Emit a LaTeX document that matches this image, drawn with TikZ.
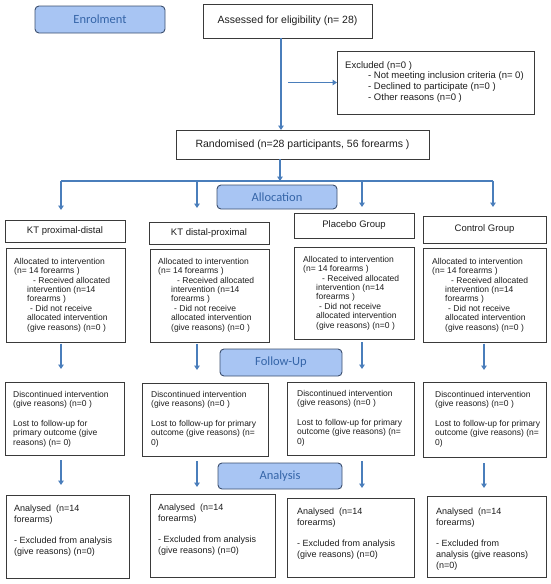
\documentclass[tikz,border=0pt]{standalone}
\usepackage{fontspec}
\setmainfont{Liberation Sans}
\newfontfamily\stagefont{Carlito}
\usetikzlibrary{arrows.meta}
\definecolor{stagefill}{HTML}{A8C5F3}
\definecolor{stageline}{HTML}{3C4F6E}
\definecolor{stagetext}{HTML}{3565A8}
\definecolor{arrowblue}{HTML}{4A7EBB}
\definecolor{boxline}{HTML}{3A3A3A}
\definecolor{txtgray}{HTML}{1E1E1E}
\begin{document}
\begin{tikzpicture}[x=1pt,y=-1pt,
  stagebox/.style={draw=stageline, line width=0.9pt, fill=stagefill, rounded corners=4pt,
    anchor=north west, inner sep=0pt, outer sep=0pt, text=stagetext,
    font=\stagefont\fontsize{12.5}{14}\selectfont},
  plainbox/.style={draw=boxline, line width=0.8pt, fill=white, anchor=north west,
    inner sep=0pt, outer sep=0pt, text=txtgray},
  headbox/.style={plainbox, font=\fontsize{9.5}{11}\selectfont},
  bigbox/.style={plainbox, font=\fontsize{10.5}{12}\selectfont},
  alloctxt/.style={anchor=north west, inner sep=0pt, align=left, text=txtgray,
    font=\fontsize{8.5}{9.4}\selectfont},
  disctxt/.style={anchor=north west, inner sep=0pt, align=left, text=txtgray,
    font=\fontsize{8.5}{9.6}\selectfont},
  anatxt/.style={anchor=north west, inner sep=0pt, align=left, text=txtgray,
    font=\fontsize{9}{10.7}\selectfont},
  excltxt/.style={anchor=north west, inner sep=0pt, align=left, text=txtgray,
    font=\fontsize{9.5}{10.7}\selectfont},
  flow/.style={draw=arrowblue, line width=1.8pt, -{Triangle[length=4.5pt,width=5.5pt]}},
  flowline/.style={draw=arrowblue, line width=1.8pt}
]
\useasboundingbox (0,0) rectangle (550,584);

% stage labels
\node[stagebox, minimum width=130pt, minimum height=27pt] (enrol) at (35,6) {Enrolment};
\node[stagebox, minimum width=120pt, minimum height=24pt] (alloc) at (217,185) {Allocation};
\node[stagebox, minimum width=122pt, minimum height=27pt] (follow) at (220,349) {Follow-Up};
\node[stagebox, minimum width=124pt, minimum height=26pt] (analysis) at (218,463) {Analysis};

% top boxes
\node[bigbox, minimum width=169pt, minimum height=34pt] (assess) at (203,4) {Assessed for eligibility (n= 28)};
\node[plainbox, minimum width=197pt, minimum height=63pt] (excl) at (337,51) {};
\node[excltxt] (exclt) at ([xshift=8pt,yshift=-10pt]excl.north west)
  {Excluded (n=0 )\\
   \hspace*{23pt}- Not meeting inclusion criteria (n= 0)\\
   \hspace*{23pt}- Declined to participate (n=0 )\\
   \hspace*{23pt}- Other reasons (n=0 )};
\node[bigbox, minimum width=253pt, minimum height=29pt] (rand) at (176,130) {Randomised (n=28 participants, 56 forearms )};

% group headings
\node[headbox, minimum width=120pt, minimum height=22pt] (h1) at (5,220) {KT proximal-distal};
\node[headbox, minimum width=120pt, minimum height=22pt] (h2) at (149,222) {KT distal-proximal};
\node[headbox, minimum width=120pt, minimum height=25pt] (h3) at (294,213) {Placebo Group};
\node[headbox, minimum width=123pt, minimum height=27pt] (h4) at (423,216) {Control Group};

% allocation boxes
\newcommand{\alloctext}{Allocated to intervention\\
  (n= 14 forearms )\\
  \hspace*{19pt}- Received allocated\\
  \hspace*{13pt}intervention (n=14\\
  \hspace*{13pt}forearms )\\
  \hspace*{16pt}- Did not receive\\
  \hspace*{13pt}allocated intervention\\
  \hspace*{13pt}(give reasons) (n=0 )}
\node[plainbox, minimum width=119pt, minimum height=94pt] (a1) at (6,248) {};
\node[plainbox, minimum width=119pt, minimum height=93pt] (a2) at (150,249) {};
\node[plainbox, minimum width=120pt, minimum height=92pt] (a3) at (294,247) {};
\node[plainbox, minimum width=123pt, minimum height=94pt] (a4) at (423,248) {};
\node[alloctxt] (a1t) at ([xshift=8pt,yshift=-10pt]a1.north west) {\alloctext};
\node[alloctxt] (a2t) at ([xshift=8pt,yshift=-9pt]a2.north west) {\alloctext};
\node[alloctxt] (a3t) at ([xshift=9pt,yshift=-9pt]a3.north west) {\alloctext};
\node[alloctxt] (a4t) at ([xshift=9pt,yshift=-10pt]a4.north west) {\alloctext};

% follow-up boxes
\node[plainbox, minimum width=119pt, minimum height=73pt] (d1) at (5,382) {};
\node[plainbox, minimum width=126pt, minimum height=73pt] (d2) at (142,383) {};
\node[plainbox, minimum width=127pt, minimum height=73pt] (d3) at (287,382) {};
\node[plainbox, minimum width=123pt, minimum height=75pt] (d4) at (423,382) {};
\node[disctxt] (d1t) at ([xshift=8pt,yshift=-9pt]d1.north west)
  {Discontinued intervention\\(give reasons) (n=0 )\\[9.6pt]
   Lost to follow-up for\\primary outcome (give\\reasons) (n= 0)};
\newcommand{\disctext}{Discontinued intervention\\(give reasons) (n=0 )\\[9.6pt]
   Lost to follow-up for primary\\outcome (give reasons) (n=\\0)}
\node[disctxt] (d2t) at ([xshift=9pt,yshift=-8pt]d2.north west) {\disctext};
\node[disctxt] (d3t) at ([xshift=10pt,yshift=-8pt]d3.north west) {\disctext};
\node[disctxt] (d4t) at ([xshift=12pt,yshift=-9pt]d4.north west) {\disctext};

% analysis boxes
\newcommand{\anatext}{Analysed\ \ (n=14\\forearms)\\[10.5pt]
   - Excluded from analysis\\(give reasons) (n=0)}
\node[plainbox, minimum width=123pt, minimum height=83pt] (n1) at (6,495) {};
\node[plainbox, minimum width=125pt, minimum height=83pt] (n2) at (150,494) {};
\node[plainbox, minimum width=127pt, minimum height=79pt] (n3) at (287,498) {};
\node[plainbox, minimum width=119pt, minimum height=81pt] (n4) at (427,496) {};
\node[anatxt] (n1t) at ([xshift=8pt,yshift=-10pt]n1.north west) {\anatext};
\node[anatxt] (n2t) at ([xshift=8pt,yshift=-10pt]n2.north west) {\anatext};
\node[anatxt] (n3t) at ([xshift=10pt,yshift=-10pt]n3.north west) {\anatext};
\node[anatxt] (n4t) at ([xshift=9pt,yshift=-12pt]n4.north west)
  {Analysed\ \ (n=14\\forearms)\\[10.5pt]- Excluded from\\analysis (give reasons)\\(n=0)};

% connector coordinates
\coordinate (vx) at (281,0);
\coordinate (exs) at (288,82.5);
\coordinate (rx) at (280,0);
\coordinate (c0) at (280,181);
\coordinate (c1) at (61,181);
\coordinate (c2) at (197,181);
\coordinate (c3) at (362,181);
\coordinate (c4) at (493,181);
\coordinate (e1) at (61,210);
\coordinate (e2) at (197,208);
\coordinate (e3) at (362,207);
\coordinate (e4) at (493,207);
\coordinate (x1) at (61,0);
\coordinate (x2) at (197,0);
\coordinate (x3) at (362,0);
\coordinate (x4) at (484,0);

% connectors
\draw[flow] (assess.south -| vx) -- (rand.north -| vx);
\draw[flow] (exs) -- (excl.west);
\draw[flow] (rand.south -| rx) -- (c0);
\draw[flowline, line join=miter] (c1) -- (c4);
\draw[flow] (c1) -- (e1);
\draw[flow] (c2) -- (e2);
\draw[flow] (c3) -- (e3);
\draw[flow] (c4) -- (e4);

\draw[flow, shorten <=1.5pt, shorten >=13pt] (a1.south -| x1) -- (d1.north -| x1);
\draw[flow, shorten <=2pt, shorten >=13pt] (a2.south -| x2) -- (d2.north -| x2);
\draw[flow, shorten <=3pt, shorten >=13pt] (a3.south -| x3) -- (d3.north -| x3);
\draw[flow, shorten <=1.5pt, shorten >=12pt] (a4.south -| x4) -- (d4.north -| x4);

\draw[flow, shorten <=5pt, shorten >=10pt] (d1.south -| x1) -- (n1.north -| x1);
\draw[flow, shorten <=5pt, shorten >=7pt] (d2.south -| x2) -- (n2.north -| x2);
\draw[flow, shorten <=6pt, shorten >=10pt] (d3.south -| x3) -- (n3.north -| x3);
\draw[flow, shorten <=6pt, shorten >=8pt] (d4.south -| x4) -- (n4.north -| x4);
\end{tikzpicture}
\end{document}
